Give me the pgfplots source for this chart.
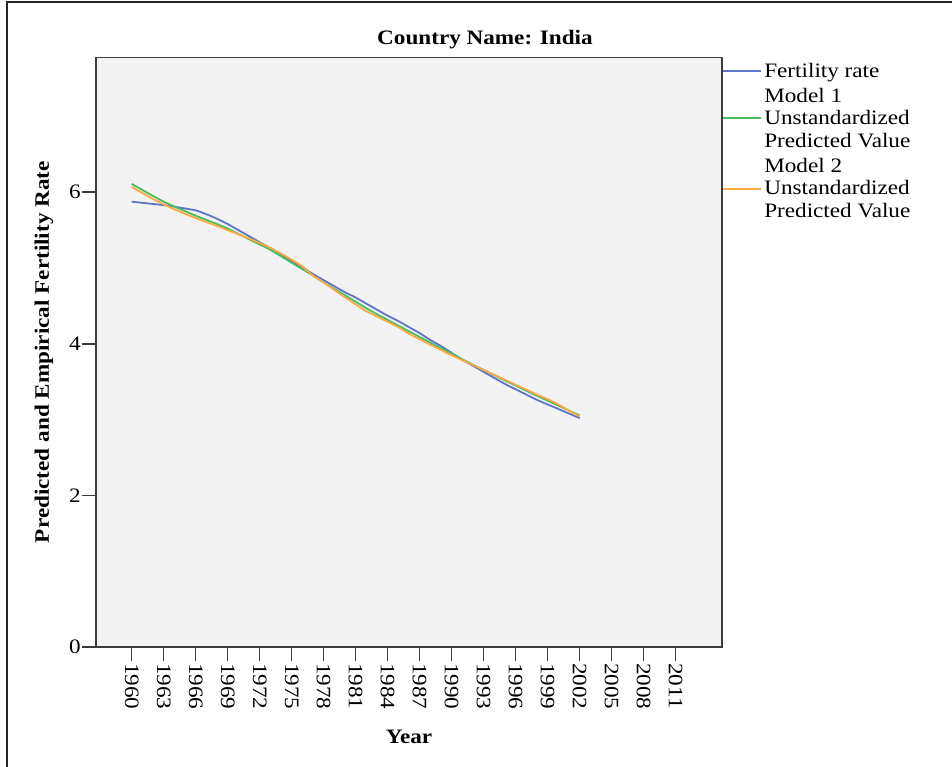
\documentclass[border=0pt]{standalone}
\usepackage{fontspec}
\setmainfont{Liberation Serif}[FakeStretch=1.13]
\usepackage{pgfplots}
\pgfplotsset{compat=1.18}
\usepackage{pgfplotstable}
\definecolor{cblue}{RGB}{94,118,200}
\definecolor{cgreen}{RGB}{72,190,96}
\definecolor{corange}{RGB}{250,170,64}
\definecolor{bgray}{RGB}{243,243,243}
\definecolor{axgray}{RGB}{60,60,60}
\newcommand\fs{\fontsize{20.5}{22.5}\selectfont}

\pgfplotstableread{
year fert m1 m2
1960 5.875 6.11 6.07
1961 5.86 6.03 5.99
1962 5.845 5.95 5.91
1963 5.83 5.875 5.84
1964 5.81 5.81 5.775
1965 5.785 5.75 5.715
1966 5.76 5.69 5.66
1967 5.71 5.635 5.605
1968 5.65 5.58 5.555
1969 5.58 5.52 5.50
1970 5.50 5.45 5.445
1971 5.42 5.38 5.39
1972 5.34 5.31 5.33
1973 5.26 5.24 5.265
1974 5.17 5.155 5.19
1975 5.09 5.07 5.11
1976 5.01 4.985 5.02
1977 4.92 4.90 4.90
1978 4.84 4.81 4.81
1979 4.76 4.725 4.71
1980 4.68 4.64 4.615
1981 4.61 4.555 4.52
1982 4.53 4.47 4.43
1983 4.45 4.39 4.36
1984 4.37 4.315 4.29
1985 4.30 4.24 4.22
1986 4.22 4.165 4.135
1987 4.14 4.09 4.06
1988 4.05 4.015 3.99
1989 3.97 3.94 3.92
1990 3.88 3.87 3.85
1991 3.79 3.795 3.785
1992 3.71 3.725 3.72
1993 3.63 3.655 3.655
1994 3.55 3.585 3.59
1995 3.47 3.515 3.525
1996 3.40 3.45 3.46
1997 3.33 3.38 3.395
1998 3.26 3.315 3.33
1999 3.20 3.25 3.27
2000 3.14 3.185 3.20
2001 3.08 3.12 3.12
2002 3.02 3.055 3.04
}\data

\begin{document}
\begin{tikzpicture}
\useasboundingbox (0,0) rectangle (952pt,767pt);
\draw[line width=2pt, black!85] (7pt,0pt) -- (7pt,764.5pt) -- (952pt,764.5pt);
\node[font=\fs\bfseries] at (485pt,727pt) {Country Name: India};
\begin{axis}[
  at={(96pt,120pt)}, anchor=south west,
  width=626pt, height=589.7pt, scale only axis,
  xmin=1956.65, xmax=2015.35, ymin=0, ymax=7.78,
  xtick={1960,1963,...,2011}, ytick={0,2,4,6},
  axis background/.style={fill=bgray},
  axis line style={axgray, line width=1.5pt},
  tick style={axgray, line width=1.5pt},
  major tick length=14pt, tick align=outside,
  xtick pos=bottom, ytick pos=left,
  /pgf/number format/assume math mode=true,
  xticklabel style={rotate=-90, anchor=west, /pgf/number format/1000 sep={}, font=\fs, inner sep=2pt},
  yticklabel style={font=\fs, inner sep=1pt},
  xlabel={Year}, ylabel={Predicted and Empirical Fertility Rate},
  xlabel style={font=\fs\bfseries, at={(axis description cs:0.5,-0.1526)}, anchor=center},
  ylabel style={font=\fs\bfseries, at={(axis description cs:-0.0831,0.5)}, anchor=center},
  legend cell align=left,
  legend image code/.code={\draw[#1, line width=1.8pt] (0pt,0pt) -- (38pt,0pt);},
  legend style={at={(axis description cs:1,1)}, anchor=north west, yshift=-4pt, draw=none, fill=none,
    inner sep=0pt, outer sep=0pt, row sep=6.5pt, column sep=1pt,
    cells={align=left}, nodes={font=\fs, inner sep=1.5pt}},
]
\addplot[cblue, line width=1.8pt, smooth] table[x=year, y=fert] {\data};
\addlegendentry{Fertility rate}
\addplot[cgreen, line width=1.8pt, smooth] table[x=year, y=m1] {\data};
\addlegendentry{Model 1\\Unstandardized\\Predicted Value}
\addplot[corange, line width=1.8pt, smooth] table[x=year, y=m2] {\data};
\addlegendentry{Model 2\\Unstandardized\\Predicted Value}
\end{axis}
\end{tikzpicture}
\end{document}
